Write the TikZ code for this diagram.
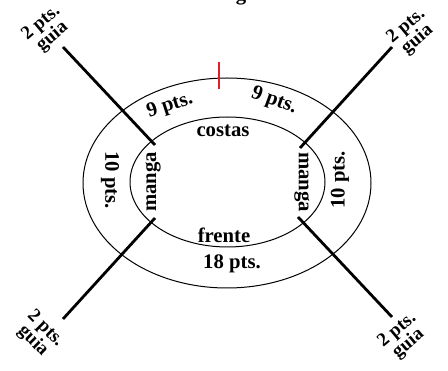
\documentclass[tikz,border=0pt]{standalone}
\usepackage{fontspec}
\setmainfont{Liberation Serif}
\definecolor{tickred}{RGB}{228,30,38}
\begin{document}
\begin{tikzpicture}[x=1pt,y=-1pt,
  lbl/.style={font=\bfseries\fontsize{20.7}{20.7}\selectfont, inner sep=0pt},
  guia/.style={font=\bfseries\fontsize{19}{17.5}\selectfont, inner sep=0pt, align=center},
  ring/.style={draw, line width=1pt},
  ray/.style={line width=2.8pt},
  redtick/.style={draw=tickred, line width=2.8pt}]
\useasboundingbox (0,0) rectangle (448,371);
\clip (0,0) rectangle (448,371);
% title fragment
\node[lbl, anchor=base] (title) at (241,0.5) {g};
% ellipses
\draw[ring] (227,183) ellipse [x radius=144, y radius=105];
\draw[ring] (227.5,182) ellipse [x radius=97.5, y radius=65];
% red tick
\coordinate (rt1) at (219,62);
\coordinate (rt2) at (219,89);
\draw[redtick] (rt1) -- (rt2);
% rays
\coordinate (ul1) at (63,47);   \coordinate (ul2) at (155,145);
\coordinate (ur1) at (392,47);  \coordinate (ur2) at (300,148);
\coordinate (ll1) at (155,218); \coordinate (ll2) at (63,319);
\coordinate (lr1) at (298,217); \coordinate (lr2) at (392,317);
\draw[ray] (ul1) -- (ul2);
\draw[ray] (ur1) -- (ur2);
\draw[ray] (ll1) -- (ll2);
\draw[ray] (lr1) -- (lr2);
% labels
\node[lbl, rotate=18] (nl) at (170,106) {9 pts.};
\node[lbl, rotate=-20] (nr) at (274,101) {9 pts.};
\node[lbl] (costas) at (223,131) {costas};
\node[lbl, rotate=90] (mangal) at (153,182) {manga};
\node[lbl, rotate=-90] (mangar) at (302,182) {manga};
\node[lbl, rotate=-90] (tl) at (110,180) {10 pts.};
\node[lbl, rotate=90] (tr) at (340,180) {10 pts.};
\node[lbl] (frente) at (224,235) {frente};
\node[lbl] (eighteen) at (232,264) {18 pts.};
\node[guia, rotate=40] (gul) at (47,30) {2 pts.\\guia};
\node[guia, rotate=40] (gur) at (412,33) {2 pts.\\guia};
\node[guia, rotate=-45] (gll) at (39,335) {2 pts.\\guia};
\node[guia, rotate=40] (glr) at (403,337) {2 pts.\\guia};
\end{tikzpicture}
\end{document}
